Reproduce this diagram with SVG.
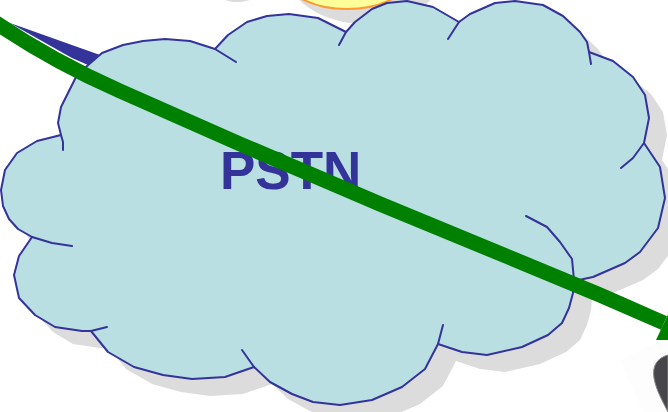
<svg xmlns="http://www.w3.org/2000/svg" width="668" height="412" viewBox="0 0 668 412">
<defs>
<style>
.o{fill:none;stroke:#333399;stroke-width:2;stroke-linejoin:round;stroke-linecap:round}
.t{font-family:"Liberation Sans",Arial,sans-serif;font-weight:700;font-size:53px;fill:#333399}
</style>
<path id="c" d="M61,135 L58,123 61,107 76,77 87,66 102,53 123,45 143,41 165,39 190,41 215,49 228,35 247,22 267,16 289,14 318,18 346,32 355,22 372,9 387,3 407,1 433,7 459,22 470,14 495,3 515,1 543,5 563,16 580,32 587,42 589,52 613,61 633,77 645,95 649,118 644,143 660,167 665,198 658,228 640,252 625,263 593,277 574,281 573,293 569,308 562,323 548,335 522,347 487,355 462,352 438,344 425,369 402,387 372,400 340,405 313,402 292,394 270,382 254,367 225,377 192,379 163,375 134,367 108,352 91,331 82,331 55,327 35,315 19,298 14,275 19,256 32,237 18,229 9,219 3,206 1,190 5,170 17,153 37,141 Z"/>
</defs>
<g id="sun">
<polygon points="225,0 250,0 241,2 232,2" fill="#dcdcdc"/>
<ellipse cx="365" cy="-34" rx="81" ry="58" fill="#dcdcdc"/>
<ellipse cx="347" cy="-50" rx="81" ry="59" fill="#ffff99" stroke="#ff9933" stroke-width="2"/>
</g>
<g id="pstn">
<use href="#c" x="18" y="17" fill="#dcdcdc"/>
<use href="#c" fill="#b9dfe3"/>
<path class="o" d="M63,150 L63,142 61,135 58,123 61,107 76,77 87,66 102,53 123,45 143,41 165,39 190,41 215,49 236,62"/>
<path class="o" d="M215,49 L228,35 247,22 267,16 289,14 318,18 346,32"/>
<path class="o" d="M339,45 L346,32 355,22 372,9 387,3 407,1 433,7 459,22"/>
<path class="o" d="M448,39 L459,22 470,14 495,3 515,1 543,5 563,16 580,32 587,42 589,52 591,64"/>
<path class="o" d="M589,52 L613,61 633,77 645,95 649,118 644,143 633,158 621,168"/>
<path class="o" d="M644,143 L660,167 665,198 658,228 640,252 625,263 593,277 574,281"/>
<path class="o" d="M526,216 L547,227 560,242 572,259 574,280 573,293 569,308 562,323 548,335 522,347 487,355 462,352 438,344"/>
<path class="o" d="M443,325 L438,344 425,369 402,387 372,400 340,405 313,402 292,394 270,382 254,367 242,350"/>
<path class="o" d="M254,367 L225,377 192,379 163,375 134,367 108,352 91,331"/>
<path class="o" d="M107,327 L91,331 82,331 55,327 35,315 19,298 14,275 19,256 32,237"/>
<path class="o" d="M72,246 L52,243 32,237 18,229 9,219 3,206 1,190 5,170 17,153 37,141 61,135"/>
<text class="t" x="220" y="189">PSTN</text>
</g>
<g id="device">
<polygon points="620,360 668,337 668,412 643,412" fill="#fdfdfd"/>
<path d="M668,355 C657,358 652,366 654,378 C656,390 663,402 668,412 Z" fill="#47474b" stroke="#8a8a8a" stroke-width="1"/>
</g>
<g id="connectors">
<polygon points="10,23 100,55 88,65 72,58" fill="#333399"/>
<path d="M-8,20 Q50,60 120,91 L240,144 380,204 518,261 600,295 664,323" fill="none" stroke="#008000" stroke-width="15" stroke-linejoin="round"/>
<polygon points="656,340 672,306 700,340" fill="#008000"/>
</g>
</svg>
